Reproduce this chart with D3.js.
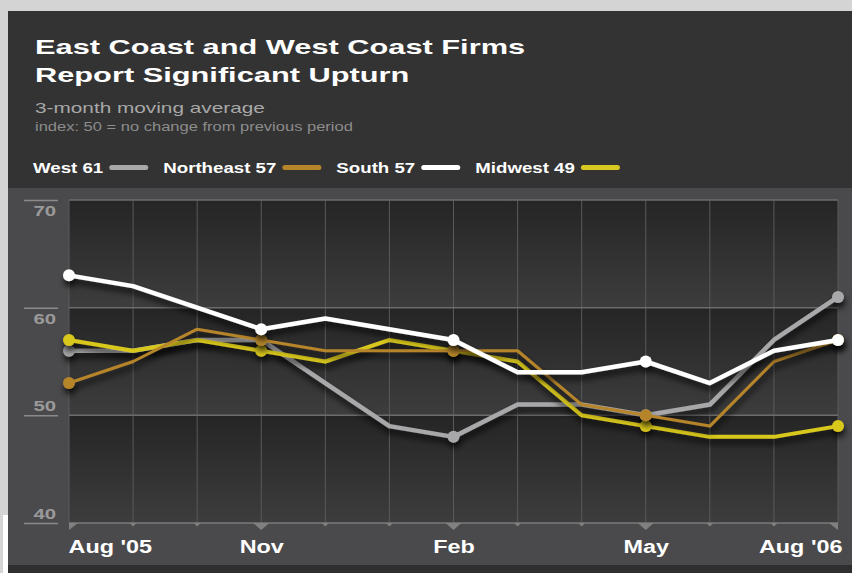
<!DOCTYPE html>
<html>
<head>
<meta charset="utf-8">
<script src="https://cdn.jsdelivr.net/npm/d3@7"></script>
<style>
  body { margin: 0; background: #fff; }
  text { font-family: "Liberation Sans", Arial, sans-serif; }
</style>
</head>
<body>
<div id="chart"></div>
<script>
// months from Aug '05 to Aug '06
const months = ["Aug '05", "Sep", "Oct", "Nov", "Dec", "Jan", "Feb", "Mar", "Apr", "May", "Jun", "Jul", "Aug '06"]
const tickLabels = ["Aug '05", "Nov", "Feb", "May", "Aug '06"]
const yTicks = [40, 50, 60, 70]

const west      = [56, 56, 57, 57, 53, 49, 48, 51, 51, 50, 51, 57, 61]
const northeast = [53, 55, 58, 57, 56, 56, 56, 56, 51, 50, 49, 55, 57]
const south     = [63, 62, 60, 58, 59, 58, 57, 54, 54, 55, 53, 56, 57]
const midwest   = [57, 56, 57, 56, 55, 57, 56, 55, 50, 49, 48, 48, 49]

const seriesNames = ["West", "Northeast", "South", "Midwest"]
const seriesColors = ["#a8a8aa", "#b6852a", "#ffffff", "#d9c81f"]
const seriesWidths = [4.5, 3, 4.5, 4]
const seriesValues = [west, northeast, south, midwest]
const drawOrder = [0, 3, 1, 2] // west, midwest, northeast, south on top

const width = 852, height = 573
const marginLeft = 69, marginRight = 14, plotTop = 200, plotBottom = 523

const svg = d3.select("#chart").append("svg")
    .attr("width", width)
    .attr("height", height)
    .attr("viewBox", [0, 0, width, height])

const defs = svg.append("defs")
const grad = defs.append("linearGradient")
    .attr("id", "band").attr("x1", 0).attr("x2", 0).attr("y1", 0).attr("y2", 1)
grad.append("stop").attr("offset", "0%").attr("stop-color", "#252525")
grad.append("stop").attr("offset", "100%").attr("stop-color", "#3d3d3d")

const shadow = defs.append("filter").attr("id", "shadow")
    .attr("x", "-10%").attr("y", "-30%").attr("width", "120%").attr("height", "160%")
shadow.append("feDropShadow")
    .attr("dx", 1).attr("dy", 5).attr("stdDeviation", 3)
    .attr("flood-color", "#000").attr("flood-opacity", 0.8)

// frame
svg.append("rect").attr("x", 0).attr("y", 0).attr("width", width).attr("height", 11).attr("fill", "#d4d4d4")
svg.append("rect").attr("x", 0).attr("y", 0).attr("width", 8).attr("height", 515).attr("fill", "#d4d4d4")
svg.append("rect").attr("x", 0).attr("y", 515).attr("width", 3).attr("height", 58).attr("fill", "#d4d4d4")
svg.append("rect").attr("x", 8).attr("y", 11).attr("width", width - 8).attr("height", 177).attr("fill", "#333333")
svg.append("rect").attr("x", 8).attr("y", 188).attr("width", width - 8).attr("height", 377).attr("fill", "#4a4a4c")
svg.append("rect").attr("x", 8).attr("y", 565).attr("width", width - 8).attr("height", 8).attr("fill", "#2f2f2f")

// stretch text horizontally to mimic the extended typeface
function stretch(sel, k) {
  sel.each(function() {
    const w = this.getComputedTextLength()
    d3.select(this).attr("textLength", w * k).attr("lengthAdjust", "spacingAndGlyphs")
  })
}

// header
const header = svg.append("g")
header.append("text").attr("x", 35).attr("y", 54)
    .attr("fill", "#fff").attr("font-size", 21).attr("font-weight", "bold")
    .text("East Coast and West Coast Firms").call(stretch, 1.465)
header.append("text").attr("x", 35).attr("y", 82)
    .attr("fill", "#fff").attr("font-size", 21).attr("font-weight", "bold")
    .text("Report Significant Upturn").call(stretch, 1.465)
header.append("text").attr("x", 35).attr("y", 113)
    .attr("fill", "#a8a8a8").attr("font-size", 15)
    .text("3-month moving average").call(stretch, 1.385)
header.append("text").attr("x", 35).attr("y", 131)
    .attr("fill", "#8c8c8c").attr("font-size", 12)
    .text("index: 50 = no change from previous period").call(stretch, 1.375)

// legend
let lx = 33
seriesNames.forEach((name, i) => {
  const vals = seriesValues[i]
  const t = svg.append("text").attr("x", lx).attr("y", 173)
      .attr("fill", "#fff").attr("font-size", 15).attr("font-weight", "bold")
      .text(name + " " + vals[vals.length - 1])
  t.call(stretch, 1.245)
  const tw = +t.attr("textLength")
  const x0 = lx + tw + 6
  svg.append("line")
      .attr("x1", x0 + 2.5).attr("x2", x0 + 36.5)
      .attr("y1", 167.5).attr("y2", 167.5)
      .attr("stroke", seriesColors[i]).attr("stroke-width", 5)
      .attr("stroke-linecap", "round")
  lx = x0 + 39 + 15
})

// scales
const x = d3.scalePoint().domain(months).range([marginLeft, width - marginRight])
const y = d3.scaleLinear().domain([40, 70]).range([plotBottom, plotTop])

// plot bands
const bands = d3.pairs(yTicks)
svg.append("g").selectAll("rect")
  .data(bands)
  .join("rect")
    .attr("x", x(months[0]))
    .attr("width", x(months[months.length - 1]) - x(months[0]))
    .attr("y", d => y(d[1]))
    .attr("height", d => y(d[0]) - y(d[1]))
    .attr("fill", "url(#band)")

// vertical grid
svg.append("g").selectAll("line")
  .data(months)
  .join("line")
    .attr("x1", d => x(d)).attr("x2", d => x(d))
    .attr("y1", plotTop).attr("y2", plotBottom)
    .attr("stroke", "#5a5a5a").attr("stroke-width", 1)

// horizontal grid
svg.append("g").selectAll("line")
  .data(yTicks)
  .join("line")
    .attr("x1", x(months[0])).attr("x2", x(months[months.length - 1]))
    .attr("y1", d => y(d)).attr("y2", d => y(d))
    .attr("stroke", d => d == 40 ? "#7a7a7a" : "#6c6c6c").attr("stroke-width", 1.5)

// y axis
const yAxis = d3.axisLeft(y).tickValues(yTicks).tickSize(34).tickPadding(2)
svg.append("g")
    .attr("transform", `translate(58,0)`)
    .call(yAxis)
    .call(g => g.select(".domain").remove())
    .call(g => g.selectAll(".tick line").attr("stroke", "#8a8a8a").attr("stroke-width", 1.5))
    .call(g => g.selectAll(".tick text")
        .attr("x", -2)
        .attr("dy", d => d >= 60 ? 15.5 : -4.5)
        .attr("fill", "#9a9a9a")
        .attr("font-size", 14).attr("font-weight", "bold")
        .attr("font-family", "Liberation Sans, Arial, sans-serif")
        .call(stretch, 1.45))

// x tick triangles
const major = new Set(tickLabels)
svg.append("g").selectAll("path")
  .data(months)
  .join("path")
    .attr("fill", "#808080")
    .attr("d", (d, i) => {
      const cx = x(d), s = major.has(d) ? 8 : 3.5, h = major.has(d) ? 7 : 3.5
      if (i == 0) return `M${cx},${plotBottom}L${cx + s + 1},${plotBottom}L${cx},${plotBottom + h}Z`
      if (i == months.length - 1) return `M${cx},${plotBottom}L${cx - s - 1},${plotBottom}L${cx},${plotBottom + h}Z`
      return `M${cx - s},${plotBottom}L${cx + s},${plotBottom}L${cx},${plotBottom + h}Z`
    })

// x axis labels
const xAxis = d3.axisBottom(x).tickValues(tickLabels).tickSize(0).tickPadding(0)
svg.append("g")
    .attr("transform", `translate(0,${plotBottom})`)
    .call(xAxis)
    .call(g => g.select(".domain").remove())
    .call(g => g.selectAll(".tick text")
        .attr("y", 30).attr("dy", 0)
        .attr("fill", "#fff")
        .attr("font-size", 18).attr("font-weight", "bold")
        .attr("font-family", "Liberation Sans, Arial, sans-serif")
        .attr("text-anchor", (d, i) => i == 0 ? "start" : i == tickLabels.length - 1 ? "end" : "middle")
        .call(stretch, 1.3))
    .call(g => g.selectAll(".tick text").filter((d, i) => i == 0).attr("x", -1))
    .call(g => g.selectAll(".tick text").filter((d, i) => i == tickLabels.length - 1).attr("x", 4))

// lines
const line = d3.line()
    .x((d, i) => x(months[i]))
    .y(d => y(d))

const plot = svg.append("g")
drawOrder.forEach(i => {
  const g = plot.append("g").attr("filter", "url(#shadow)")
  g.append("path")
      .attr("fill", "none")
      .attr("stroke", seriesColors[i])
      .attr("stroke-width", seriesWidths[i])
      .attr("stroke-linejoin", "round")
      .attr("d", line(seriesValues[i]))
  g.selectAll("circle")
    .data(seriesValues[i].map((v, j) => [months[j], v]).filter(d => major.has(d[0])))
    .join("circle")
      .attr("cx", d => x(d[0]))
      .attr("cy", d => y(d[1]))
      .attr("r", 6)
      .attr("fill", seriesColors[i])
})
</script>
</body>
</html>
